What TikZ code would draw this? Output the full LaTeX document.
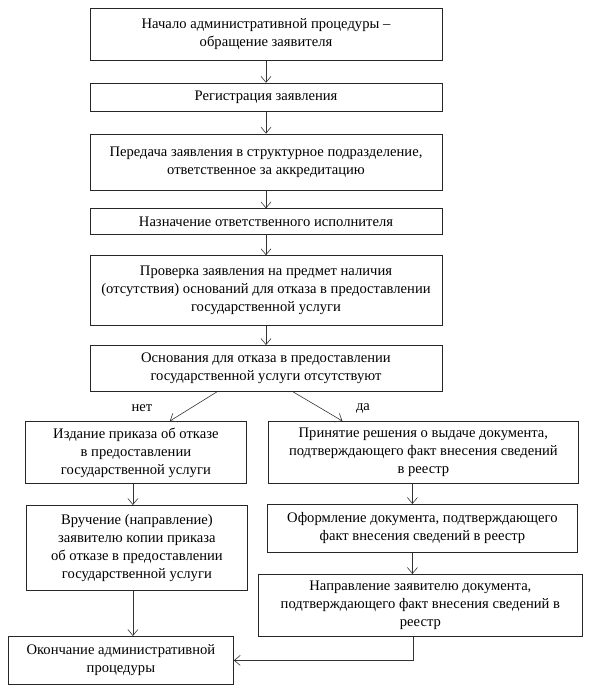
\documentclass[tikz,border=0pt]{standalone}
\usepackage{fontspec}
\setmainfont{Liberation Serif}
\usetikzlibrary{positioning,arrows.meta}

\begin{document}
\begin{tikzpicture}[x=1pt, y=-1pt, node distance=20pt,
    box/.style={draw=black!85, line width=0.8pt, align=center, inner sep=2pt,
      font=\fontsize{14.6}{18}\selectfont, text=black},
    wide/.style={box, minimum width=352pt},
    lbl/.style={font=\fontsize{14.6}{18}\selectfont, text=black},
    arr/.style={draw=black!80, line width=0.6pt, -{Straight Barb[length=6pt,width=10pt]}}]
    \useasboundingbox (0,0) rectangle (590,690);

    % main chain
    \node[wide, minimum height=52pt, anchor=north] (start) at (266,8)
        {Начало административной процедуры --\\обращение заявителя};
    \node[wide, minimum height=28pt, below=22pt of start] (reg) {Регистрация заявления};
    \node[wide, minimum height=56pt, below=22pt of reg] (pered)
        {Передача заявления в структурное подразделение,\\ответственное за аккредитацию};
    \node[wide, minimum height=26pt, below=18pt of pered] (nazn) {Назначение ответственного исполнителя};
    \node[wide, minimum height=70pt, below=20pt of nazn] (prov)
        {Проверка заявления на предмет наличия\\(отсутствия) оснований для отказа в предоставлении\\государственной услуги};
    \node[wide, minimum height=46pt, below=19pt of prov] (osn)
        {Основания для отказа в предоставлении\\государственной услуги отсутствуют};

    % left branch
    \node[box, minimum width=221pt, minimum height=62pt, anchor=north west] (izd) at (25,421)
        {Издание приказа об отказе\\в предоставлении\\государственной услуги};
    \node[box, minimum width=221pt, minimum height=85pt, anchor=north west] (vruch) at (26,505)
        {Вручение (направление)\\заявителю копии приказа\\об отказе в предоставлении\\государственной услуги};
    \node[box, minimum width=225pt, minimum height=48pt, anchor=north west] (okon) at (8,636)
        {Окончание административной\\процедуры};

    % right branch
    \node[box, minimum width=310pt, minimum height=62pt, anchor=north west] (prin) at (268,421)
        {Принятие решения о выдаче документа,\\подтверждающего факт внесения сведений\\в реестр};
    \node[box, minimum width=310pt, minimum height=48pt, anchor=north west] (oform) at (267,504)
        {Оформление документа, подтверждающего\\факт внесения сведений в реестр};
    \node[box, minimum width=324pt, minimum height=62pt, anchor=north west] (napr) at (258,574)
        {Направление заявителю документа,\\подтверждающего факт внесения сведений в\\реестр};

    \node[lbl] (net) at (142,408) {нет};
    \node[lbl] (da) at (363,408) {да};

    \path[arr]
        (start) edge (reg)
        (reg) edge (pered)
        (pered) edge (nazn)
        (nazn) edge (prov)
        (prov) edge (osn);
    \draw[arr] ([xshift=-49pt]osn.south) -- ([xshift=34pt]izd.north);
    \draw[arr] ([xshift=27pt]osn.south) -- ([xshift=-81pt]prin.north);
    \draw[arr] ([xshift=-3pt]izd.south) -- ([xshift=-4pt]vruch.north);
    \draw[arr] ([xshift=-4pt]vruch.south) -- ([xshift=-4pt]vruch.south |- okon.north);
    \draw[arr] ([xshift=-11pt]prin.south) -- ([xshift=-10pt]oform.north);
    \draw[arr] ([xshift=-10pt]oform.south) -- ([xshift=-8pt]napr.north);
    \draw[arr] ([xshift=-7pt]napr.south) |- (okon.east);
\end{tikzpicture}
\end{document}
